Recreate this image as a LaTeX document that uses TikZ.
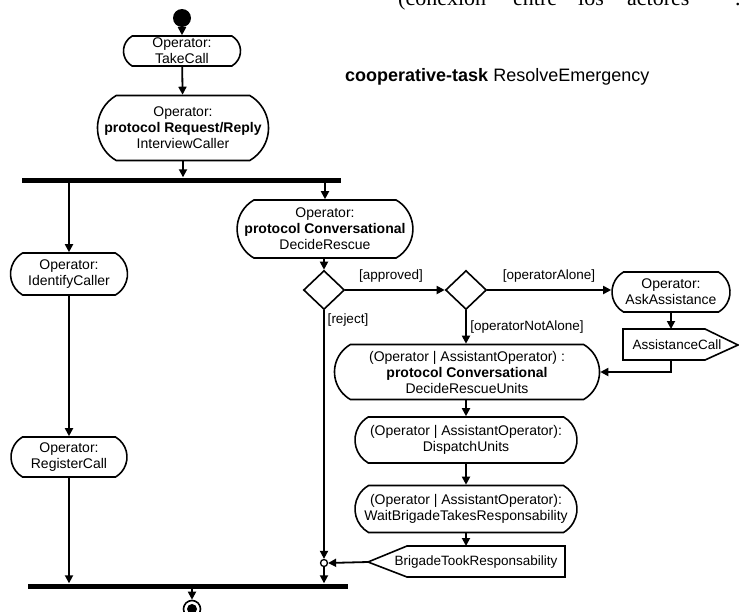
\documentclass[tikz,border=0pt]{standalone}
\usepackage{fontspec}
\setmainfont{Liberation Sans}
\newfontfamily\seriffont{Liberation Serif}
\usetikzlibrary{shapes.misc,shapes.geometric,arrows.meta}
\begin{document}
\begin{tikzpicture}[x=1pt,y=-1pt,
  act/.style={draw,line width=1.6pt,rounded rectangle,rounded rectangle arc length=120,inner sep=0pt,align=center,font=\fontsize{14}{16}\selectfont},
  bar/.style={fill=black,inner sep=0pt,minimum height=5pt},
  conn/.style={line width=1.8pt,-{Triangle[length=8pt,width=8pt]}},
  guard/.style={font=\fontsize{13.5}{16}\selectfont,inner sep=0pt},
  decision/.style={draw,line width=1.6pt,diamond,inner sep=0pt,minimum width=41pt,minimum height=39pt},
  sig/.style={line width=1.6pt,line join=miter},
  toptext/.style={anchor=base west,inner sep=0pt,font=\seriffont\fontsize{22}{26}\selectfont}
]
\useasboundingbox (0,0) rectangle (739,611);
\clip (0,0) rectangle (739,611);

% cut-off text line at the top
\node[toptext] (w1) at (398,5) {(conexión};
\node[toptext] (w2) at (513,5) {entre};
\node[toptext] (w3) at (578,5) {los};
\node[toptext] (w4) at (627,5) {actores};
\node[toptext] (w5) at (735,5) {.};

% title
\node[anchor=west,inner sep=0pt,font=\fontsize{18}{20}\selectfont] (title) at (345,77) {\textbf{cooperative-task} ResolveEmergency};

% nodes
\node[circle,fill=black,minimum size=18pt,inner sep=0pt] (start) at (182,18) {};
\node[act,minimum width=117pt,minimum height=30pt] (take) at (182,51) {Operator:\\TakeCall};
\node[act,minimum width=171pt,minimum height=65pt] (interview) at (183,128) {Operator:\\\textbf{protocol Request/Reply}\\InterviewCaller};
\node[bar,minimum width=319pt] (fork) at (181.5,180) {};
\node[act,minimum width=117pt,minimum height=42pt] (identify) at (69,274) {Operator:\\IdentifyCaller};
\node[act,minimum width=116pt,minimum height=40pt] (register) at (69,457) {Operator:\\RegisterCall};
\node[act,minimum width=167pt,minimum height=58pt] (decide) at (325,229) {Operator:\\\textbf{protocol Conversational}\\DecideRescue};
\node[decision] (d1) at (324,290) {};
\node[decision] (d2) at (466,290) {};
\node[act,minimum width=118pt,minimum height=40pt] (ask) at (671,292) {Operator:\\AskAssistance};
\node[act,minimum width=265pt,minimum height=55pt] (dru) at (467,372) {(Operator | AssistantOperator) :\\\textbf{protocol Conversational}\\DecideRescueUnits};
\node[act,minimum width=222pt,minimum height=46pt] (dispatch) at (466,440) {(Operator | AssistantOperator):\\DispatchUnits};
\node[act,minimum width=222pt,minimum height=47pt] (wait) at (466,509) {(Operator | AssistantOperator):\\WaitBrigadeTakesResponsability};
\node[circle,draw,line width=1.3pt,minimum size=7pt,inner sep=0pt] (merge) at (324,563) {};
\node[bar,minimum width=320pt] (join) at (188,586) {};
\node[circle,draw,line width=1.6pt,minimum size=17pt,inner sep=0pt] (final) at (192,609) {};
\node[circle,fill=black,minimum size=10pt,inner sep=0pt] (finaldot) at (final) {};

% signal shapes
\coordinate (acall-nw) at (623,329);
\coordinate (acall-ne) at (705,329);
\coordinate (acall-tip) at (738,345);
\coordinate (acall-se) at (705,360);
\coordinate (acall-sw) at (623,360);
\draw[sig] (acall-nw) -- (acall-ne) -- (acall-tip) -- (acall-se) -- (acall-sw) -- cycle;
\node[inner sep=0pt,font=\fontsize{13.5}{16}\selectfont] (acall) at (677,345) {AssistanceCall};

\coordinate (brig-tip) at (368,562);
\coordinate (brig-nw) at (407,546);
\coordinate (brig-ne) at (565,546);
\coordinate (brig-se) at (565,577);
\coordinate (brig-sw) at (407,577);
\draw[sig] (brig-tip) -- (brig-nw) -- (brig-ne) -- (brig-se) -- (brig-sw) -- cycle;
\node[inner sep=0pt,font=\fontsize{13.5}{16}\selectfont] (brig) at (476,562) {BrigadeTookResponsability};

% guards
\node[guard] (lapproved) at (391,276) {[approved]};
\node[guard] (lalone) at (549,276) {[operatorAlone]};
\node[guard] (lreject) at (348,320) {[reject]};
\node[guard] (lnotalone) at (527,327) {[operatorNotAlone]};

% connectors
\draw[conn] (start) -- (take);
\draw[conn] (take) -- (interview);
\draw[conn] (interview.south) -- (interview.south |- fork.north);
\draw[conn] (fork.south -| identify.north) -- (identify.north);
\draw[conn] (identify) -- (register);
\draw[conn] (register.south) -- (register.south |- join.north);
\draw[conn] (fork.south -| decide.north) -- (decide.north);
\draw[conn] (decide.south -| d1.north) -- (d1.north);
\draw[conn] (d1.east) -- (d2.west);
\draw[conn] (d2.east) -- (ask.west |- d2.east);
\draw[conn] (ask.south) -- (ask.south |- acall-nw);
\draw[conn] (acall-sw -| ask.south) |- (dru.east);
\draw[conn] (d2.south) -- (d2.south |- dru.north);
\draw[conn] (dru.south -| dispatch.north) -- (dispatch.north);
\draw[conn] (dispatch) -- (wait);
\draw[conn] (wait.south) -- (wait.south |- brig-nw);
\draw[conn] (d1.south) -- (merge.north);
\draw[conn] (brig-tip) -- (merge.east);
\draw[conn] (merge.south) -- (merge.south |- join.north);
\draw[conn] (join.south -| final.north) -- (final.north);
\end{tikzpicture}
\end{document}
